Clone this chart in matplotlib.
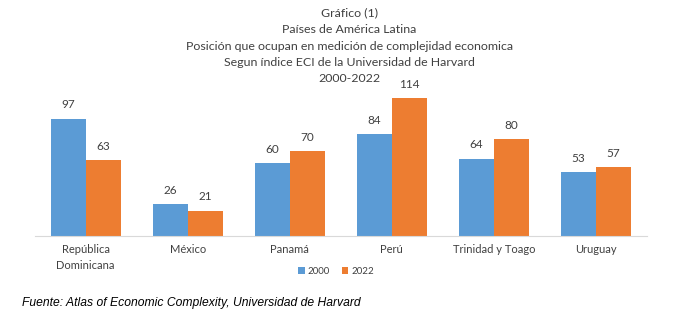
import numpy as np
import matplotlib
matplotlib.use("Agg")
import matplotlib.pyplot as plt

paises = ["República\nDominicana", "México", "Panamá", "Perú",
          "Trinidad y Toago", "Uruguay"]
pos_2000 = [97, 26, 60, 84, 64, 53]
pos_2022 = [63, 21, 70, 114, 80, 57]
titulo = ["Gráfico (1)", "Países de América Latina",
          "Posición que ocupan en medición de complejidad economica",
          "Segun índice ECI de la Universidad de Harvard", "2000-2022"]
fuente = "Fuente: Atlas of Economic Complexity, Universidad de Harvard"

AZUL = "#5B9BD5"
NARANJA = "#ED7D31"
GRIS = "#404040"

plt.rcParams["font.family"] = ["Lato", "DejaVu Sans"]

fig = plt.figure(figsize=(6.94, 3.24), dpi=100)
ax = fig.add_axes([0.05, 0.272, 0.882, 0.447])

x = np.arange(len(paises))
w = 0.345
b1 = ax.bar(x - w / 2, pos_2000, w, color=AZUL, label="2000")
b2 = ax.bar(x + w / 2, pos_2022, w, color=NARANJA, label="2022")
for bars in (b1, b2):
    ax.bar_label(bars, padding=6, fontsize=8.5, color=GRIS)

ax.set_xlim(-0.5, len(paises) - 0.5)
ax.set_ylim(0, 120)
ax.set_yticks([])
ax.set_xticks(x)
ax.set_xticklabels(paises, fontsize=8, color=GRIS, linespacing=1.5)
ax.tick_params(axis="x", length=0, pad=6)
for s in ("top", "right", "left"):
    ax.spines[s].set_visible(False)
ax.spines["bottom"].set_color("#D9D9D9")

for i, linea in enumerate(titulo):
    fig.text(0.503, 1 - (13 + 16.5 * i) / 324, linea, ha="center", va="center",
             fontsize=8.9, color=GRIS)

ax.legend(loc="center", bbox_to_anchor=(336 / 694, 1 - 271 / 324),
          bbox_transform=fig.transFigure, ncol=2, frameon=False,
          fontsize=7, handlelength=0.7, handleheight=0.7, columnspacing=1.2,
          handletextpad=0.3, labelcolor=GRIS)

fig.text(22 / 694, 1 - 303 / 324, fuente, ha="left", va="center",
         fontsize=8.75, style="italic", family=["Liberation Sans"])

fig.savefig("out.png", dpi=100)
